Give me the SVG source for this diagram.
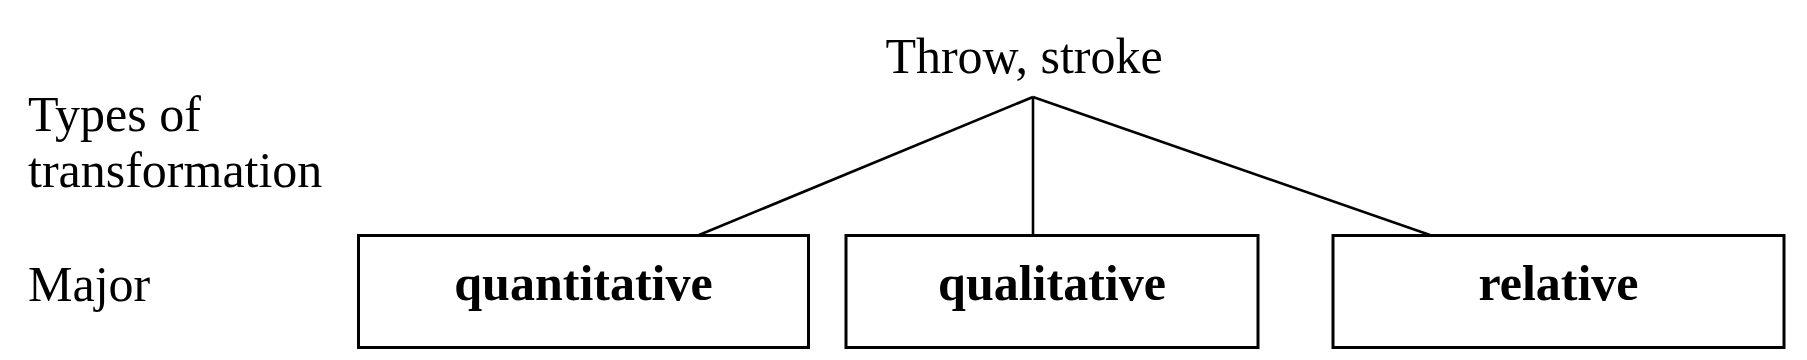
<svg xmlns="http://www.w3.org/2000/svg" width="1807" height="360" viewBox="0 0 1807 360">
<style>
text{font-family:"Liberation Serif","Times New Roman",serif;font-size:50px;fill:#000}
.b{font-weight:bold;text-anchor:middle}
.box{fill:#fff;stroke:#000;stroke-width:3}
.con{stroke:#000;stroke-width:2.6;fill:none}
</style>
<rect width="1807" height="360" fill="#fff"/>
<g id="labels">
<text x="28" y="131">Types of</text>
<text x="28" y="187">transformation</text>
<text x="28" y="301">Major</text>
</g>
<g id="root">
<text x="1024" y="73" text-anchor="middle">Throw, stroke</text>
</g>
<g id="connectors">
<line class="con" x1="1033" y1="97" x2="699" y2="235"/>
<line class="con" x1="1033" y1="97" x2="1033" y2="235"/>
<line class="con" x1="1033" y1="97" x2="1430" y2="235"/>
</g>
<g id="quantitative">
<rect class="box" x="358.5" y="235.5" width="450" height="112"/>
<text class="b" x="583.5" y="300">quantitative</text>
</g>
<g id="qualitative">
<rect class="box" x="846" y="235.5" width="412" height="112"/>
<text class="b" x="1052" y="300">qualitative</text>
</g>
<g id="relative">
<rect class="box" x="1333" y="235.5" width="451" height="112"/>
<text class="b" x="1558.5" y="300">relative</text>
</g>
</svg>
